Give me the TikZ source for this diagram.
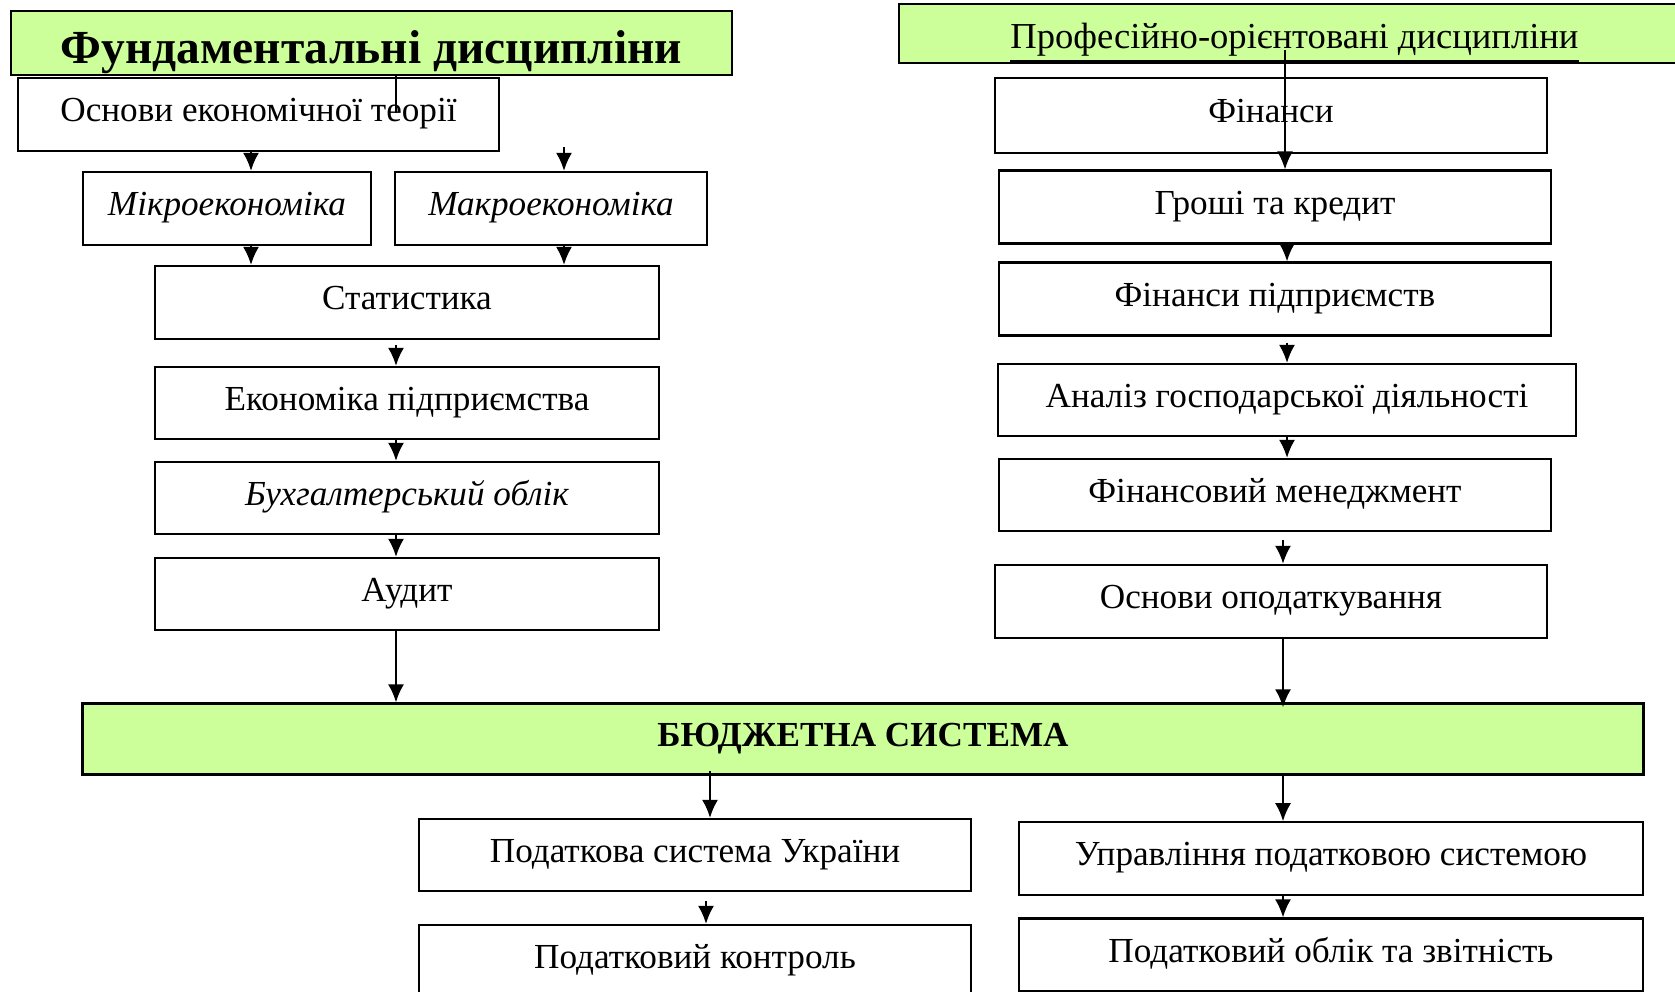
\documentclass[tikz,border=0pt]{standalone}
\usepackage{fontspec}
\setmainfont{Liberation Serif}
\usetikzlibrary{arrows.meta}
\definecolor{hdrgreen}{RGB}{204,255,153}
\begin{document}
\begin{tikzpicture}[x=0.01cm,y=-0.01cm,
    box/.style={draw,line width=0.6pt,fill=white,inner sep=0pt,
      font=\fontsize{10}{12}\selectfont,text height=0.75em,text depth=0.35em},
    hdr/.style={box,fill=hdrgreen,text height=1em,text depth=0.15em},
    arr/.style={line width=0.6pt,-{Latex[length=1.8mm,width=1.6mm]}}]
  \useasboundingbox (0,0) rectangle (1675,992);
  \node[hdr,minimum width=7.21cm,minimum height=0.64cm,
    font=\fontsize{13.5}{16}\selectfont\bfseries,text height=1.26em,text depth=0.12em] (fund) at (371.5,43) {Фундаментальні дисципліни};
  \node[hdr,minimum width=7.91cm,minimum height=0.59cm,font=\fontsize{10.4}{12}\selectfont] (prof) at (1294.5,33.5) {\underline{Професійно-орієнтовані дисципліни}};
  \node[box,minimum width=4.81cm,minimum height=0.73cm] (osnovy) at (258.5,114.5) {Основи економічної теорії};
  \node[box,minimum width=2.88cm,minimum height=0.73cm] (mikro) at (227,208.5) {\itshape Мікроекономіка};
  \node[box,minimum width=3.12cm,minimum height=0.73cm] (makro) at (551,208.5) {\itshape Макроекономіка};
  \node[box,minimum width=5.04cm,minimum height=0.73cm] (stat) at (407,302.5) {Статистика};
  \node[box,minimum width=5.04cm,minimum height=0.72cm] (ekon) at (407,403) {Економіка підприємства};
  \node[box,minimum width=5.04cm,minimum height=0.72cm] (buh) at (407,498) {\itshape Бухгалтерський облік};
  \node[box,minimum width=5.04cm,minimum height=0.72cm] (audyt) at (407,594) {Аудит};
  \node[box,minimum width=5.51cm,minimum height=0.75cm] (fin) at (1271,115.4) {Фінанси};
  \node[box,minimum width=5.52cm,minimum height=0.73cm] (groshi) at (1275,207) {Гроші та кредит};
  \node[box,minimum width=5.52cm,minimum height=0.73cm] (finp) at (1275,299) {Фінанси підприємств};
  \node[box,minimum width=5.77cm,minimum height=0.72cm] (analiz) at (1287,400) {Аналіз господарської діяльності};
  \node[box,minimum width=5.52cm,minimum height=0.72cm] (finm) at (1275,495) {Фінансовий менеджмент};
  \node[box,minimum width=5.51cm,minimum height=0.73cm] (osnopod) at (1271,601.4) {Основи оподаткування};
  \node[hdr,minimum width=15.6cm,minimum height=0.71cm,font=\fontsize{10}{12}\selectfont\bfseries,
    text height=0.75em,text depth=0.35em] (budget) at (863,739) {БЮДЖЕТНА СИСТЕМА};
  \node[box,minimum width=5.52cm,minimum height=0.72cm] (podsys) at (695,855) {Податкова система України};
  \node[box,minimum width=5.52cm,minimum height=0.72cm] (podkon) at (695,961) {Податковий контроль};
  \node[box,minimum width=6.24cm,minimum height=0.73cm] (upr) at (1331,858.8) {Управління податковою системою};
  \node[box,minimum width=6.24cm,minimum height=0.73cm] (podobl) at (1331,955) {Податковий облік та звітність};
  \coordinate (colA) at (251,0);
  \coordinate (colB) at (564,0);
  \coordinate (colC) at (396,0);
  \coordinate (colD) at (1287,0);
  \coordinate (colE) at (1283,0);
  \coordinate (colF) at (710,0);
  \coordinate (colG) at (706,0);
  \coordinate (fundend) at (396,113);
  \coordinate (makrotop) at (564,147);
  \coordinate (proftop) at (1285,50);
  \draw[line width=0.6pt] (fund.south -| colC) -- (fundend);
  \draw[arr] (osnovy.south -| colA) -- (mikro.north -| colA);
  \draw[arr] (makrotop) -- (makro.north -| makrotop);
  \draw[arr] (mikro.south -| colA) -- (stat.north -| colA);
  \draw[arr] (makro.south -| colB) -- (stat.north -| colB);
  \draw[arr,shorten <=0.05cm] (stat.south -| colC) -- (ekon.north -| colC);
  \draw[arr] (ekon.south -| colC) -- (buh.north -| colC);
  \draw[arr] (buh.south -| colC) -- (audyt.north -| colC);
  \draw[arr] (audyt.south -| colC) -- (budget.north -| colC);
  \draw[arr] (proftop) -- (groshi.north -| proftop);
  \draw[arr] (groshi.south -| colD) -- (finp.north -| colD);
  \draw[arr,shorten <=0.06cm] (finp.south -| colD) -- (analiz.north -| colD);
  \draw[arr] (analiz.south -| colD) -- (finm.north -| colD);
  \draw[arr,shorten <=0.08cm] (finm.south -| colE) -- (osnopod.north -| colE);
  \draw[arr,shorten >=-0.05cm] (osnopod.south -| colE) -- (budget.north -| colE);
  \draw[arr,shorten <=-0.05cm] (budget.south -| colF) -- (podsys.north -| colF);
  \draw[arr] (budget.south -| colE) -- (upr.north -| colE);
  \draw[arr,shorten <=0.09cm] (podsys.south -| colG) -- (podkon.north -| colG);
  \draw[arr] (upr.south -| colE) -- (podobl.north -| colE);
\end{tikzpicture}
\end{document}
